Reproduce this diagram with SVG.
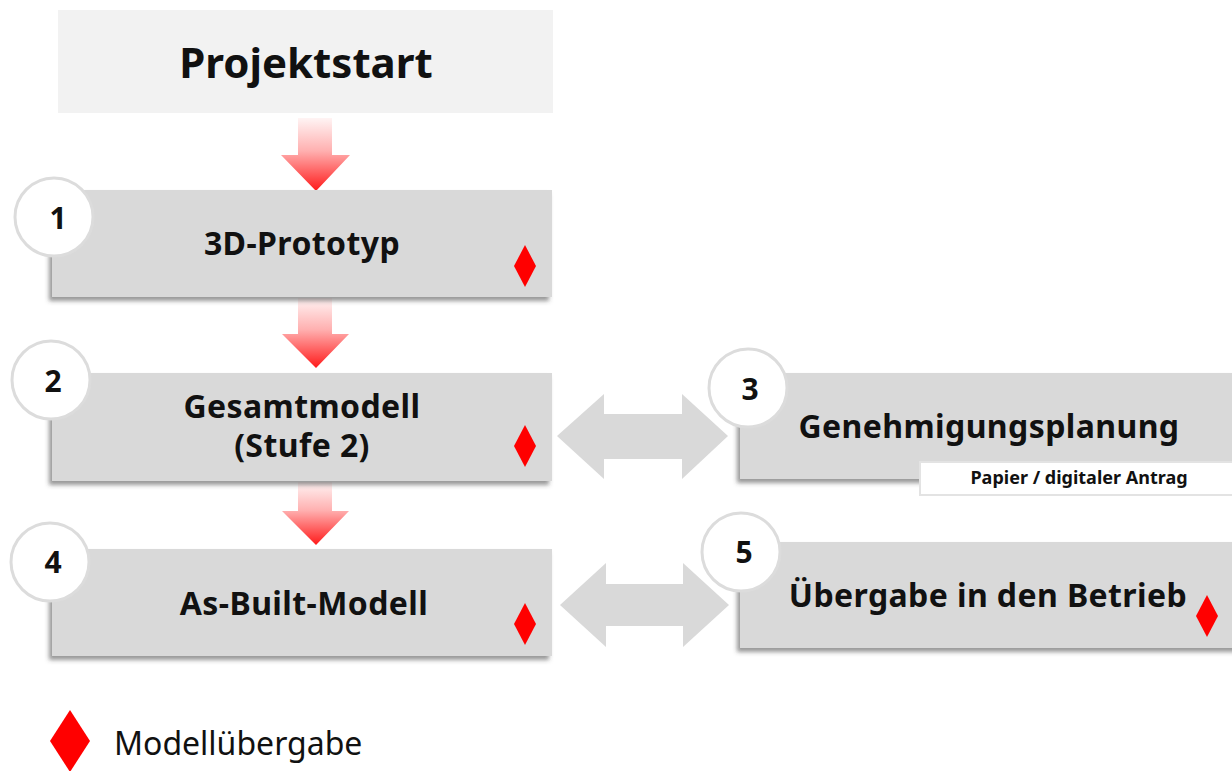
<svg xmlns="http://www.w3.org/2000/svg" width="1232" height="771" viewBox="0 0 1232 771">
<style>
.box{fill:#d9d9d9;filter:url(#sh)}
.start{fill:#f2f2f2}
.circ{fill:#fff;stroke:#dcdcdc;stroke-width:3}
.num{font-family:"Noto Sans",sans-serif;font-weight:bold;font-size:30px;fill:#111;text-anchor:middle}
.lbl{font-family:"Noto Sans",sans-serif;font-weight:bold;font-size:32px;letter-spacing:0.4px;fill:#111;text-anchor:middle}
.dia{fill:#ff0000}
.dbl{fill:#d9d9d9}
.down{fill:url(#rg)}
</style>
<defs>
<filter id="sh" x="-5%" y="-10%" width="110%" height="130%">
<feDropShadow dx="-3" dy="4" stdDeviation="2" flood-color="#444" flood-opacity="0.55"/>
</filter>
<linearGradient id="rg" x1="0" y1="0" x2="0" y2="1">
<stop offset="0" stop-color="#fff4f4"/>
<stop offset="0.45" stop-color="#ffb0b0"/>
<stop offset="1" stop-color="#ff1a1a"/>
</linearGradient>
<path id="dm" d="M0,-21 L11,0 L0,21 L-11,0 Z"/>
</defs>

<g id="connectors">
<path class="down" d="M298,118 H332 V155 H350 L316,191 L281,155 H298 Z"/>
<path class="down" d="M298,298 H332 V334 H349 L316,368 L282,334 H298 Z"/>
<path class="down" d="M298,482 H332 V511 H349 L316,545 L282,511 H298 Z"/>
<path class="dbl" d="M557,436 L604,394 V414 H682 V394 L728,436 L682,479 V459 H604 V479 Z"/>
<path class="dbl" d="M560,605 L606,563 V584 H683 V563 L729,605 L683,647 V626 H606 V647 Z"/>
</g>

<g id="node-start">
<rect class="start" x="58" y="10" width="495" height="103"/>
<text x="306" y="78" font-family="Noto Sans, sans-serif" font-weight="bold" font-size="42" fill="#111" text-anchor="middle">Projektstart</text>
</g>

<g id="node-1">
<rect class="box" x="52" y="190" width="500" height="107"/>
<circle class="circ" cx="54" cy="217" r="39"/>
<text class="num" x="58" y="229">1</text>
<text class="lbl" x="302" y="255">3D-Prototyp</text>
<use href="#dm" x="525" y="266" class="dia"/>
</g>

<g id="node-2">
<rect class="box" x="52" y="373" width="500" height="108"/>
<circle class="circ" cx="51" cy="380" r="39"/>
<text class="num" x="53" y="392">2</text>
<text class="lbl" x="302" y="418">Gesamtmodell</text>
<text class="lbl" x="302" y="457">(Stufe 2)</text>
<use href="#dm" x="525" y="446" class="dia"/>
</g>

<g id="node-3">
<rect class="box" x="740" y="373" width="500" height="106"/>
<circle class="circ" cx="748" cy="388" r="39"/>
<text class="num" x="750" y="400">3</text>
<text class="lbl" x="989" y="438">Genehmigungsplanung</text>
<rect x="920" y="462" width="320" height="33" fill="#fff" stroke="#e3e3e3" stroke-width="2"/>
<text x="1079" y="484" font-family="Noto Sans, sans-serif" font-weight="bold" font-size="18" fill="#111" text-anchor="middle">Papier / digitaler Antrag</text>
</g>

<g id="node-4">
<rect class="box" x="52" y="549" width="500" height="107"/>
<circle class="circ" cx="50" cy="562" r="39"/>
<text class="num" x="53" y="573">4</text>
<text class="lbl" x="304" y="615">As-Built-Modell</text>
<use href="#dm" x="525" y="624" class="dia"/>
</g>

<g id="node-5">
<rect class="box" x="740" y="542" width="500" height="106"/>
<circle class="circ" cx="741" cy="552" r="39"/>
<text class="num" x="744" y="563">5</text>
<text class="lbl" x="988" y="607">Übergabe in den Betrieb</text>
<use href="#dm" x="1207" y="616" class="dia"/>
</g>

<g id="legend">
<path d="M70,710 L90,741 L70,772 L50,741 Z" fill="#ff0000"/>
<text x="114" y="755" font-family="Noto Sans, sans-serif" font-size="32" fill="#111">Modellübergabe</text>
</g>
</svg>
